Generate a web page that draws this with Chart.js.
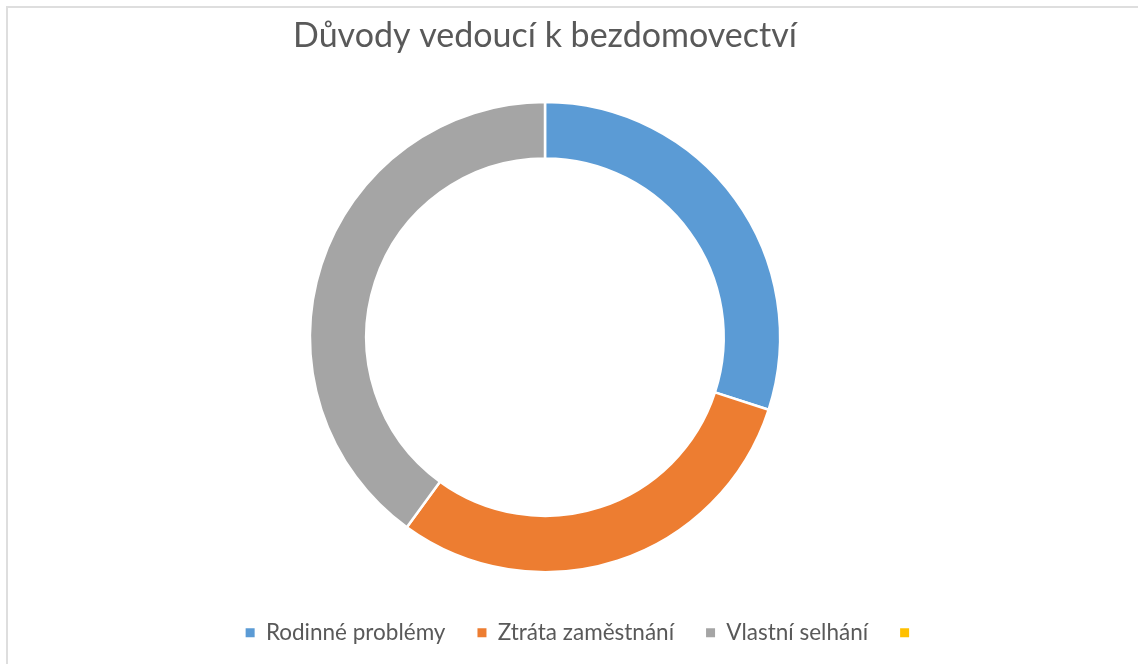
<!DOCTYPE html>
<html lang="cs">
<head>
<meta charset="utf-8">
<title>Důvody vedoucí k bezdomovectví</title>
<script src="https://cdn.jsdelivr.net/npm/chart.js@4.4.1/dist/chart.umd.min.js"></script>
<style>
    html, body { margin: 0; padding: 0; background: #fff; overflow: hidden; }
    #ramecek {
        position: absolute; left: 6px; top: 6px;
        width: 1150px; height: 680px;
        border: 2px solid #dedede; box-sizing: border-box;
    }
    #obal { position: absolute; left: 0; top: 0; width: 1138px; height: 664px; }
</style>
</head>
<body>
<div id="ramecek"></div>
<div id="obal"><canvas id="grafDuvody"></canvas></div>
<script>
// data grafu
const kategorie = ['Rodinné problémy', 'Ztráta zaměstnání', 'Vlastní selhání', ''];
const hodnoty = [30, 30, 40, 0];
const barvy = ['#5B9BD5', '#ED7D31', '#A5A5A5', '#FFC000'];
const nadpis = 'Důvody vedoucí k bezdomovectví';

const pismo = 'Lato, "Open Sans", sans-serif';

// legenda v originale neni vycentrovana pod kruhem -> posuneme ji
const posunLegendy = {
    id: 'posunLegendy',
    afterLayout(chart) {
        const l = chart.legend;
        if (!l) return;
        l.left += 38; l.right += 38;
        l.top += 16; l.bottom += 16;
    }
};

const ctx = document.getElementById('grafDuvody').getContext('2d');
const graf = new Chart(ctx, {
    type: 'doughnut',
    data: {
        labels: kategorie,
        datasets: [{
            data: hodnoty,
            backgroundColor: barvy,
            borderColor: '#ffffff',
            borderWidth: 2.5
        }]
    },
    options: {
        responsive: true,
        maintainAspectRatio: false,
        animation: false,
        cutout: '76%',
        layout: { padding: { top: 0, bottom: 26, left: 0, right: 48 } },
        plugins: {
            title: {
                display: true,
                text: nadpis,
                color: '#595959',
                font: { family: pismo, size: 34, weight: 'normal' },
                padding: { top: 16, bottom: 44 }
            },
            legend: {
                position: 'bottom',
                labels: {
                    color: '#595959',
                    font: { family: pismo, size: 22.5 },
                    boxWidth: 9,
                    boxHeight: 9,
                    padding: 32,
                    // bez bileho okraje kolem ctverecku
                    generateLabels(chart) {
                        const polozky = Chart.overrides.doughnut.plugins.legend.labels.generateLabels(chart);
                        polozky.forEach(p => { p.lineWidth = 0; });
                        return polozky;
                    }
                }
            },
            tooltip: { enabled: false }
        }
    },
    plugins: [posunLegendy]
});
</script>
</body>
</html>
